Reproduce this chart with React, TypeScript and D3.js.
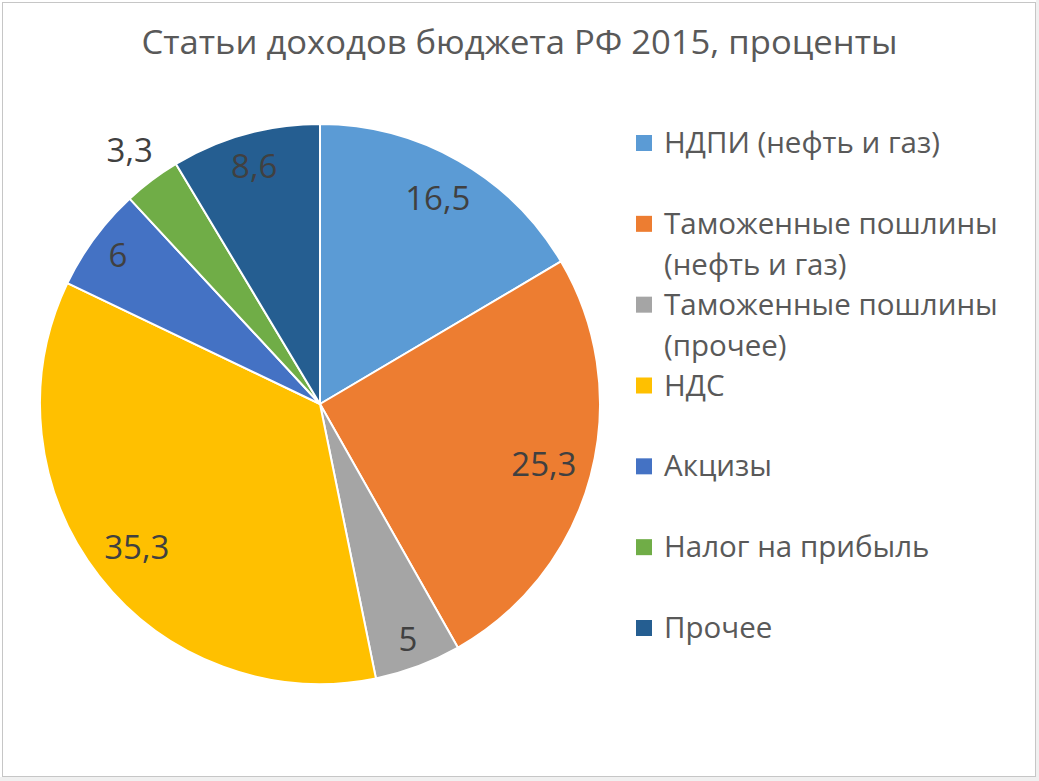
import React from "react";
import * as d3 from "d3";

const TITLE = "Статьи доходов бюджета РФ 2015, проценты";
const categories: string[][] = [
  ["НДПИ (нефть и газ)"],
  ["Таможенные пошлины", "(нефть и газ)"],
  ["Таможенные пошлины", "(прочее)"],
  ["НДС"],
  ["Акцизы"],
  ["Налог на прибыль"],
  ["Прочее"],
];
const values: number[] = [16.5, 25.3, 5, 35.3, 6, 3.3, 8.6];
const labels: string[] = ["16,5", "25,3", "5", "35,3", "6", "3,3", "8,6"];
const colors: string[] = ["#5B9BD5", "#ED7D31", "#A5A5A5", "#FFC000", "#4472C4", "#70AD47", "#255E91"];

const W = 1039;
const H = 781;
const CX = 320;
const CY = 404;
const R = 280;
const LABEL_FS = 33;
const FONT = "'Open Sans', 'Noto Sans', sans-serif";

function textWidth(s: string, fs: number) {
  let w = 0;
  for (const ch of s) w += ch === "," ? 0.27 : 0.572;
  return w * fs;
}

export default function App() {
  const pie = d3.pie<number>().sort(null).value((d) => d)(values);
  const arc = d3.arc<d3.PieArcDatum<number>>().innerRadius(0).outerRadius(R);

  const legendY = d3.scaleLinear().domain([0, categories.length - 1]).range([153, 638]);

  return (
    <svg width={W} height={H} style={{ position: "absolute", left: 0, top: 0 }} fontFamily={FONT}>
      <rect x={0} y={0} width={W} height={H} fill="#ffffff" />
      <rect x={1036} y={0} width={W - 1036} height={H} fill="#f0f0f0" />
      <rect x={0} y={777} width={W} height={H - 777} fill="#f0f0f0" />
      <rect x={2.5} y={2.5} width={1033} height={774} fill="#ffffff" stroke="#c6c6c6" strokeWidth={1} />

      <text x={519.5} y={54} textAnchor="middle" fontSize={32} fill="#595959" textLength={756} lengthAdjust="spacingAndGlyphs">
        {TITLE}
      </text>

      <g transform={`translate(${CX},${CY})`}>
        {pie.map((p, i) => (
          <path key={i} d={arc(p) || ""} fill={colors[i]} stroke="#ffffff" strokeWidth={2} strokeLinejoin="round" />
        ))}
        {pie.map((p, i) => {
          const theta = (p.startAngle + p.endAngle) / 2;
          const s = Math.sin(theta);
          const c = Math.cos(theta);
          const hw = textWidth(labels[i], LABEL_FS) / 2;
          const hh = 14;
          const b = hw * Math.abs(s) + hh * Math.abs(c);
          const k = hw * hw + hh * hh;
          const outside = values[i] < 4;
          let d: number;
          if (outside) {
            const Ro = R + 12;
            d = b + Math.sqrt(b * b - (k - Ro * Ro));
          } else {
            const Ri = R - 13;
            d = -b + Math.sqrt(b * b - (k - Ri * Ri));
          }
          const x = d * s;
          const y = -d * c;
          return (
            <text key={"l" + i} x={x} y={y + 12} textAnchor="middle" fontSize={LABEL_FS} fill="#404040">
              {labels[i]}
            </text>
          );
        })}
      </g>

      <g>
        {categories.map((lines, i) => {
          const by = legendY(i);
          return (
            <g key={i}>
              <rect x={636} y={by - 18} width={16} height={16} fill={colors[i]} />
              {lines.map((ln, j) => (
                <text key={j} x={664} y={by + j * 41} fontSize={29.5} fill="#595959">
                  {ln}
                </text>
              ))}
            </g>
          );
        })}
      </g>
    </svg>
  );
}
